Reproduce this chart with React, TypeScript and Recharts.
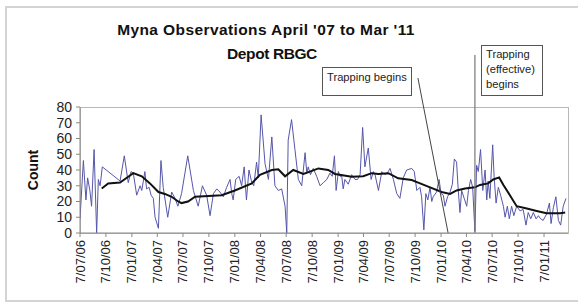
import React from "react";
import { LineChart, Line, XAxis, YAxis, ReferenceLine } from "recharts";

// x values are days after 7/07/06
const START = Date.UTC(2006, 6, 7);
const DAY = 86400000;
const DOMAIN_END = 1730;

const tickLabels = [
  "7/07/06", "7/10/06", "7/01/07", "7/04/07", "7/07/07", "7/10/07", "7/01/08",
  "7/04/08", "7/07/08", "7/10/08", "7/01/09", "7/04/09", "7/07/09", "7/10/09",
  "7/01/10", "7/04/10", "7/07/10", "7/10/10", "7/01/11",
];
const yTicks = [0, 10, 20, 30, 40, 50, 60, 70, 80];

// [day, count] observations
const observations: [number, number][] = [
  [0, 9], [12, 46], [21, 21], [27, 35], [35, 27], [41, 17], [50, 53], [59, 0],
  [65, 34], [71, 30], [74, 34], [79, 42], [142, 33], [157, 49], [171, 32], [181, 39],
  [189, 38], [201, 24], [213, 30], [219, 27], [230, 39], [236, 28], [245, 29], [252, 24],
  [260, 22], [266, 10], [278, 3], [287, 46], [295, 29], [311, 10], [325, 26], [337, 22],
  [347, 17], [360, 25], [382, 49], [402, 27], [419, 17], [434, 30], [449, 24], [461, 11],
  [473, 25], [485, 28], [496, 26], [508, 23], [520, 29], [532, 34], [538, 25], [543, 21],
  [552, 34], [564, 36], [573, 30], [582, 42], [590, 21], [599, 40], [609, 32], [616, 30],
  [626, 45], [632, 35], [642, 75], [656, 44], [668, 34], [680, 61], [691, 30], [703, 27],
  [715, 28], [727, 17], [733, 0], [738, 59], [750, 72], [762, 53], [774, 34], [786, 30],
  [798, 51], [804, 38], [809, 42], [817, 37], [827, 41], [839, 36], [851, 30], [863, 32],
  [875, 34], [886, 38], [894, 36], [902, 49], [908, 27], [916, 39], [922, 36], [928, 36],
  [933, 28], [939, 34], [951, 31], [963, 37], [975, 34], [984, 34], [993, 37], [1002, 67],
  [1010, 42], [1022, 54], [1032, 34], [1040, 39], [1046, 37], [1058, 27], [1070, 39], [1081, 37],
  [1093, 39], [1099, 41], [1111, 34], [1123, 25], [1134, 22], [1146, 35], [1158, 40], [1176, 41],
  [1185, 39], [1194, 27], [1205, 29], [1211, 23], [1219, 2], [1226, 25], [1233, 21], [1241, 29],
  [1247, 20], [1252, 23], [1264, 26], [1273, 34], [1280, 25], [1288, 24], [1294, 17], [1303, 23],
  [1312, 26], [1320, 31], [1327, 47], [1335, 45], [1341, 27], [1347, 13], [1353, 27], [1362, 22],
  [1371, 17], [1377, 27], [1385, 34], [1392, 29], [1400, 1], [1406, 43], [1412, 39], [1420, 53],
  [1428, 27], [1436, 40], [1442, 21], [1447, 33], [1453, 22], [1463, 56], [1468, 36], [1475, 19],
  [1483, 29], [1491, 24], [1501, 17], [1507, 10], [1515, 17], [1522, 9], [1530, 17], [1538, 11],
  [1548, 17], [1560, 14], [1571, 15], [1581, 5], [1589, 13], [1598, 9], [1607, 13], [1617, 9],
  [1625, 11], [1633, 9], [1642, 8], [1654, 12], [1664, 19], [1670, 6], [1678, 16], [1687, 23],
  [1696, 8], [1704, 5], [1713, 17], [1723, 22],
];

// [day, value] moving average
const movingAverage: [number, number][] = [
  [77, 28.3], [100, 31.5], [142, 32], [171, 35.7], [189, 38], [219, 36], [248, 31.5],
  [278, 26], [301, 24.8], [325, 23], [348, 20], [360, 19], [383, 20], [408, 23],
  [455, 23.5], [502, 24], [549, 27], [609, 31.5], [638, 37], [680, 40], [703, 40.5],
  [727, 36], [756, 40], [792, 37.5], [815, 39], [845, 41], [880, 40], [904, 37.5],
  [963, 35.7], [1004, 36], [1034, 38], [1058, 37.5], [1093, 38], [1128, 34.7], [1176, 33.6],
  [1199, 32], [1241, 29], [1282, 26], [1312, 24.8], [1335, 27], [1365, 28.3], [1400, 29],
  [1418, 30.5], [1447, 31.5], [1465, 34], [1486, 35.3], [1501, 30.5], [1524, 24],
  [1548, 17], [1584, 15.6], [1619, 14], [1654, 12.5], [1702, 12.5], [1720, 13],
];

// annotation arrows, in [day, count]
const trappingBegins: [number, number][] = [[1198, 98.4], [1305, 0]];
const trappingEffective: [number, number][] = [[1400, 113], [1400, 0]];

const dayOf = (label: string) => {
  const [d, m, y] = label.split("/").map(Number);
  return Math.round((Date.UTC(2000 + y, m - 1, d) - START) / DAY);
};
const tickDays = tickLabels.map(dayOf);
const countData = observations.map(([day, count]) => ({ day, count }));
const avgData = movingAverage.map(([day, avg]) => ({ day, avg }));

const FONT = "'Liberation Sans', Arial, sans-serif";

function DateTick({ x, y, payload }: any) {
  const i = tickDays.indexOf(payload.value);
  return (
    <g transform={`translate(${x},${y})`}>
      <text transform="rotate(-90)" textAnchor="end" dy={4.5} fontSize={13} fill="#222" fontFamily={FONT}>
        {tickLabels[i]}
      </text>
    </g>
  );
}

export default function App() {
  return (
    <div style={{ position: "absolute", left: 0, top: 0, width: 578, height: 305, background: "#fff", overflow: "hidden", fontFamily: FONT }}>
      <div style={{ position: "absolute", left: 5, top: 6, width: 590, height: 296, border: "2px solid #d4d4d4", boxSizing: "border-box" }} />
      <div style={{ position: "absolute", left: 80, top: 107, width: 489, height: 127, border: "1px solid #b8b8b8", boxSizing: "border-box" }} />
      <div style={{ position: "absolute", left: 66, top: 21, width: 400, textAlign: "center", fontSize: 15.5, fontWeight: "bold", letterSpacing: 0.4, color: "#111" }}>
        Myna Observations April '07 to Mar '11
      </div>
      <div style={{ position: "absolute", left: 72, top: 45, width: 400, textAlign: "center", fontSize: 15.5, fontWeight: "bold", letterSpacing: -0.4, color: "#111" }}>
        Depot RBGC
      </div>
      <div style={{ position: "absolute", left: 33, top: 170, transform: "translate(-50%, -50%) rotate(-90deg)", fontSize: 14, fontWeight: "bold", color: "#111" }}>
        Count
      </div>
      <div style={{ position: "absolute", left: 322, top: 67, width: 90, height: 29, border: "1px solid #555", boxSizing: "border-box", fontSize: 11.2, padding: "3px 0 0 4px", color: "#222", background: "#fff" }}>
        Trapping begins
      </div>
      <div style={{ position: "absolute", left: 481, top: 45, width: 62, height: 51, border: "1px solid #555", boxSizing: "border-box", fontSize: 11.2, lineHeight: "15px", padding: "1px 0 0 4px", color: "#222", background: "#fff" }}>
        Trapping<br />(effective)<br />begins
      </div>
      <div style={{ position: "absolute", left: 0, top: 0 }}>
        <LineChart width={578} height={305} margin={{ top: 107, right: 10, bottom: 0, left: 20 }}>
          <XAxis
            dataKey="day"
            type="number"
            domain={[0, DOMAIN_END]}
            allowDataOverflow
            ticks={tickDays}
            interval={0}
            tick={<DateTick />}
            tickSize={4}
            tickMargin={3}
            height={72}
            stroke="#888"
          />
          <YAxis
            type="number"
            domain={[0, 80]}
            ticks={yTicks}
            interval={0}
            width={60}
            tickSize={4}
            tickMargin={4}
            stroke="#888"
            tick={{ fontSize: 14, fill: "#222", fontFamily: FONT }}
          />
          <Line
            data={countData}
            dataKey="count"
            type="linear"
            stroke="#5656aa"
            strokeWidth={1}
            dot={false}
            isAnimationActive={false}
          />
          <Line
            data={avgData}
            dataKey="avg"
            type="linear"
            stroke="#111"
            strokeWidth={2}
            dot={false}
            isAnimationActive={false}
          />
          <ReferenceLine
            segment={trappingBegins.map(([x, y]) => ({ x, y }))}
            ifOverflow="visible"
            stroke="#444"
            strokeWidth={1}
          />
          <ReferenceLine
            segment={trappingEffective.map(([x, y]) => ({ x, y }))}
            ifOverflow="visible"
            stroke="#777"
            strokeWidth={1.2}
          />
        </LineChart>
      </div>
    </div>
  );
}
